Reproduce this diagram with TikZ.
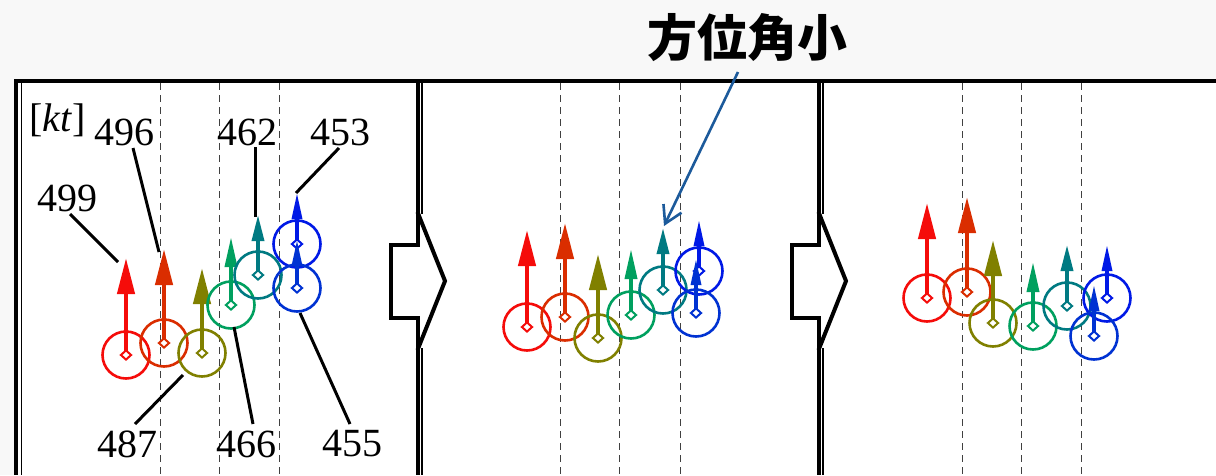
\documentclass[tikz,border=0pt]{standalone}
\usepackage{fontspec}
\setmainfont{Liberation Serif}
\newfontfamily\cjk{Noto Sans CJK JP}
\usetikzlibrary{arrows.meta,shapes.geometric}
\definecolor{cR}{RGB}{245,12,10}
\definecolor{cO}{RGB}{218,45,0}
\definecolor{cY}{RGB}{128,128,0}
\definecolor{cG}{RGB}{0,160,95}
\definecolor{cT}{RGB}{0,122,130}
\definecolor{cB}{RGB}{0,25,230}
\definecolor{cB2}{RGB}{0,50,210}
\definecolor{cN}{RGB}{28,90,155}
\definecolor{bgc}{RGB}{248,248,248}
\newcommand\mkr[6]{%
  \node[ring=#5] (#1) at (#2,#3) {};
  \coordinate (#1t) at (#2,#4);
  \draw[#6,draw=#5,fill=#5] (#1.center) -- (#1t);
  \node[dia=#5] (#1d) at (#1.center) {};
}
\begin{document}
\begin{tikzpicture}[x=1pt,y=-1pt,
  ring/.style={circle,draw=#1,line width=2.6pt,minimum size=47pt,inner sep=0pt},
  dia/.style={diamond,draw=#1,fill=white,line width=2pt,minimum width=11pt,minimum height=10pt,inner sep=0pt},
  arrA/.style={line width=4.3pt,-{Triangle[length=36pt,width=17pt]}},
  arrB/.style={line width=3.6pt,-{Triangle[length=30pt,width=12pt]}},
  arrC/.style={line width=3.4pt,-{Triangle[length=26pt,width=12pt]}},
  arrD/.style={line width=3.2pt,-{Triangle[length=26pt,width=10pt]}},
  num/.style={font=\fontsize{40}{40}\selectfont,inner sep=0pt},
  lead/.style={line width=3pt,black},
  grid/.style={line width=0.9pt,black!75,dash pattern=on 7pt off 5pt},
  frm/.style={line width=4.5pt,black},
  thin/.style={line width=1.2pt,black},
  chev/.style={line width=4pt,black,line join=miter}
]
\useasboundingbox (0,0) rectangle (1216,475);
\fill[bgc] (0,0) rectangle (1216,475);
\fill[white] (15,80) rectangle (1216,475);

% dashed guide lines
\foreach \x in {160,219,279,560,619,680,962,1021,1081}
  \draw[grid] (\x,83) -- (\x,475);

% frame
\draw[line width=4pt] (14,80.5) -- (1216,80.5);
\draw[line width=3.5pt] (16,80) -- (16,475);
\draw[thin] (21.5,83) -- (21.5,475);

% dividers with block arrows
\foreach \d/\t in {417.5/445, 818.5/846}{
  \draw[thin] (\d+4.5,83) -- (\d+4.5,214);
  \draw[thin] (\d+4.5,348) -- (\d+4.5,475);
  \draw[chev] (\d,80) -- (\d,245) -- (\d-27,245) -- (\d-27,318) -- (\d,318) -- (\d,475);
  \draw[chev] (\d,212) -- (\t,281) -- (\d,350);
}

% panel 1
\mkr{a1}{126}{355}{258}{cR}{arrA}
\mkr{a2}{164}{343}{249}{cO}{arrA}
\mkr{a3}{202}{353}{268}{cY}{arrA}
\mkr{a4}{231}{305}{237}{cG}{arrB}
\mkr{a5}{258}{275}{215}{cT}{arrC}
\mkr{a6}{297}{244}{193}{cB}{arrD}
\mkr{a7}{297}{288}{240}{cB2}{arrD}

% panel 2
\mkr{b1}{527}{327}{230}{cR}{arrA}
\mkr{b2}{565}{317}{223}{cO}{arrA}
\mkr{b3}{598}{338}{254}{cY}{arrA}
\mkr{b4}{631}{315}{249}{cG}{arrB}
\mkr{b5}{663}{290}{228}{cT}{arrC}
\mkr{b6}{699}{271}{220}{cB}{arrD}
\mkr{b7}{696}{313}{259}{cB2}{arrD}

% panel 3
\mkr{c1}{927}{298}{203}{cR}{arrA}
\mkr{c2}{967}{292}{197}{cO}{arrA}
\mkr{c3}{993}{323}{240}{cY}{arrA}
\mkr{c4}{1033}{326}{262}{cG}{arrB}
\mkr{c5}{1067}{306}{245}{cT}{arrC}
\mkr{c6}{1107}{298}{245}{cB}{arrD}
\mkr{c7}{1094}{336}{285}{cB2}{arrD}

% labels
\node[num,anchor=base west] (kt) at (29,131) {[\textit{kt}]};
\node[num] (l499) at (67,198) {499};
\node[num] (l496) at (124,132) {496};
\node[num] (l462) at (247,132) {462};
\node[num] (l453) at (340,132) {453};
\node[num] (l487) at (127,444) {487};
\node[num] (l466) at (246,444) {466};
\node[num] (l455) at (352,444) {455};

\coordinate (e499s) at (70,214);  \coordinate (e499) at (118,262);
\coordinate (e496s) at (133,148); \coordinate (e496) at (159,252);
\coordinate (e462s) at (255,147); \coordinate (e462) at (255,217);
\coordinate (e453s) at (339,148); \coordinate (e453) at (296,193);
\coordinate (e487s) at (135,424); \coordinate (e487) at (183,375);
\coordinate (e466s) at (253,424); \coordinate (e466) at (234,327);
\coordinate (e455s) at (350,424); \coordinate (e455) at (300,313);
\foreach \n in {499,496,462,453,487,466,455}
  \draw[lead] (e\n s) -- (e\n);

% title and annotation
\node[font=\cjk\bfseries\fontsize{50}{50}\selectfont,inner sep=0pt] (title) at (747,38) {方位角小};
\coordinate (ns) at (738,72);
\coordinate (ne) at (664,226);
\draw[cN,line width=2.6pt,-{Straight Barb[length=17pt,width=20pt,line width=2.6pt]}] (ns) -- (ne);
\end{tikzpicture}
\end{document}
